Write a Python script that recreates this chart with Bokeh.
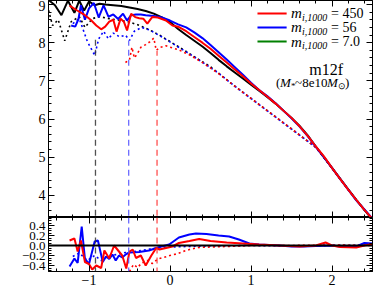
import numpy as np
from bokeh.plotting import figure
from bokeh.layouts import column
from bokeh.models import LinearAxis, FixedTicker, CustomJSTickFormatter, Label, Span
from bokeh.embed import file_html
from bokeh.resources import INLINE

# ---------------- data ----------------
black_x = [-1.5, -1.42, -1.34, -1.26, -1.18, -1.12, -1.06, -1.0, -0.93, -0.87, -0.8, -0.7, -0.6, -0.5,
           -0.4, -0.3, -0.2, -0.1, 0.0, 0.1, 0.2, 0.3, 0.4, 0.5, 0.6, 0.7, 0.8, 0.9, 1.0, 1.1, 1.2,
           1.3, 1.4, 1.5, 1.6, 1.7, 1.8, 1.9, 2.0, 2.1, 2.2, 2.3, 2.4, 2.5]
black_y = [9.12, 8.98, 8.72, 9.1, 8.78, 9.1, 8.84, 9.08, 8.98, 9.02, 9.0, 8.98, 8.96, 8.92,
           8.88, 8.83, 8.76, 8.66, 8.54, 8.36, 8.2, 8.05, 7.9, 7.73, 7.55, 7.38, 7.22, 7.06, 6.9,
           6.74, 6.58, 6.41, 6.22, 6.03, 5.82, 5.57, 5.28, 5.0, 4.72, 4.44, 4.16, 3.88, 3.62, 3.36]

blue_x = [-1.22, -1.17, -1.13, -1.1, -1.05, -1.0, -0.94, -0.88, -0.82, -0.76, -0.7, -0.64, -0.58,
          -0.53, -0.48, -0.42, -0.36, -0.3, -0.2, -0.1, 0.0, 0.1, 0.2, 0.3, 0.4, 0.5, 0.6, 0.7,
          0.8, 0.9, 1.0, 1.1, 1.2, 1.3, 1.4, 1.5, 1.6, 1.7, 1.8, 1.9, 2.0, 2.1, 2.2, 2.3, 2.4, 2.5]
blue_y = [8.45, 8.42, 8.62, 8.98, 8.6, 8.9, 9.04, 8.66, 8.98, 8.68, 8.74, 8.62, 8.76,
          8.58, 8.72, 8.74, 8.74, 8.72, 8.7, 8.66, 8.58, 8.48, 8.4, 8.27, 8.12, 7.94, 7.75, 7.56,
          7.36, 7.16, 6.95, 6.76, 6.6, 6.42, 6.22, 6.02, 5.8, 5.55, 5.27, 5.0, 4.72, 4.43, 4.15,
          3.87, 3.63, 3.39]

red_x = [-1.24, -1.15, -1.05, -0.98, -0.91, -0.85, -0.8, -0.75, -0.7, -0.66, -0.61, -0.57, -0.53,
         -0.48, -0.43, -0.38, -0.33, -0.28, -0.22, -0.15, -0.1, -0.05, 0.03, 0.1, 0.2, 0.3, 0.4,
         0.5, 0.6, 0.7, 0.8, 0.9, 1.0, 1.1, 1.2, 1.3, 1.4, 1.5, 1.6, 1.7, 1.8, 1.9, 2.0, 2.1,
         2.2, 2.3, 2.4, 2.5]
red_y = [8.97, 8.85, 8.72, 8.6, 8.45, 8.35, 8.42, 8.55, 8.6, 8.29, 8.63, 8.55, 8.32,
         8.76, 8.67, 8.64, 8.63, 8.5, 8.67, 8.66, 8.62, 8.58, 8.45, 8.42, 8.3, 8.15, 8.0,
         7.84, 7.66, 7.48, 7.3, 7.12, 6.93, 6.76, 6.59, 6.41, 6.22, 6.03, 5.81, 5.56, 5.28, 5.02,
         4.72, 4.43, 4.15, 3.88, 3.62, 3.38]

black_dot_x = [-1.5, -1.45, -1.38, -1.3, -1.22, -1.12, -1.05, -0.96, -0.87, -0.75, -0.6, -0.5, -0.4,
               -0.3, -0.2, -0.1, 0.0, 0.1, 0.2, 0.3, 0.4, 0.5, 0.6, 0.7, 0.8, 0.9, 1.0, 1.1, 1.2,
               1.3, 1.4, 1.5, 1.6, 1.7, 1.8, 1.9, 2.0, 2.1, 2.2, 2.3, 2.4, 2.5]
black_dot_y = [8.85, 8.45, 8.6, 8.05, 8.55, 8.68, 8.4, 8.63, 8.68, 8.63, 8.58, 8.54, 8.47,
               8.38, 8.28, 8.16, 8.03, 7.9, 7.77, 7.63, 7.5, 7.37, 7.2, 7.03, 6.86, 6.7, 6.54,
               6.38, 6.22, 6.06, 5.9, 5.74, 5.58, 5.42, 5.26, 5.0, 4.72, 4.43, 4.15, 3.88, 3.62, 3.38]

blue_dot_x = [-1.2, -1.12, -1.02, -0.93, -0.88, -0.82, -0.76, -0.7, -0.62, -0.55, -0.5, -0.44, -0.35,
              -0.25, -0.1, 0.0, 0.2, 0.4, 0.6, 0.8, 1.0, 1.2, 1.4, 1.6, 1.8, 2.0, 2.2, 2.4, 2.5]
blue_dot_y = [8.5, 8.63, 8.03, 7.67, 8.1, 8.3, 8.1, 8.25, 8.15, 8.2, 8.06, 8.3, 8.4,
              8.33, 8.15, 8.02, 7.76, 7.49, 7.2, 6.86, 6.54, 6.22, 5.9, 5.58, 5.26, 4.71, 4.15,
              3.62, 3.38]

red_dot_x = [-0.55, -0.5, -0.47, -0.44, -0.4, -0.36, -0.3, -0.25, -0.2, -0.17, -0.12, -0.05, 0.0,
             0.1, 0.24, 0.4, 0.6, 0.8, 1.0, 1.2, 1.4, 1.6, 1.8, 2.0, 2.2, 2.4, 2.5]
red_dot_y = [7.48, 7.55, 7.88, 7.6, 7.72, 7.88, 7.95, 8.02, 8.12, 7.8, 7.88, 7.92, 7.88,
             7.82, 7.68, 7.48, 7.19, 6.86, 6.54, 6.22, 5.9, 5.58, 5.26, 4.71, 4.15, 3.62, 3.38]

cut_x = [-0.92, -0.51, -0.16]
cut_top = [8.1, 8.05, 7.78]
cut_colors = ["#333333", "#5050ff", "#ff3030"]

res_blue_x = [-1.24, -1.18, -1.14, -1.09, -1.05, -1.0, -0.93, -0.89, -0.83, -0.79, -0.75, -0.71,
              -0.67, -0.63, -0.59, -0.54, -0.5, -0.38, -0.26, -0.13, -0.01, 0.11, 0.24, 0.32,
              0.45, 0.6, 0.73, 0.85, 0.98, 1.1, 1.35, 1.5, 1.65, 1.8, 2.0, 2.1, 2.2, 2.3, 2.4, 2.5]
res_blue_y = [-0.42, -0.26, -0.35, 0.38, -0.27, -0.37, 0.08, 0.1, -0.33, -0.22, -0.27, -0.18,
              -0.3, -0.2, -0.24, -0.17, -0.14, -0.13, -0.1, -0.03, 0.02, 0.16, 0.22, 0.24,
              0.23, 0.2, 0.18, 0.12, 0.04, 0.02, 0.0, -0.02, -0.02, -0.01, 0.0, -0.02, -0.03,
              -0.02, 0.05, 0.04]

res_red_x = [-1.24, -1.18, -1.14, -1.1, -1.05, -1.0, -0.96, -0.91, -0.85, -0.81, -0.75, -0.69,
             -0.63, -0.59, -0.54, -0.5, -0.46, -0.42, -0.36, -0.3, -0.23, -0.17, -0.13, -0.05,
             0.03, 0.11, 0.24, 0.36, 0.5, 0.7, 0.9, 1.1, 1.35, 1.6, 1.8, 1.92, 2.0, 2.1, 2.3,
             2.4, 2.5]
res_red_y = [0.1, 0.14, -0.12, 0.1, -0.33, -0.37, -0.48, -0.4, -0.45, -0.1, -0.26, 0.0,
             -0.12, -0.2, -0.46, -0.12, -0.08, -0.25, -0.2, -0.4, -0.2, -0.05, -0.08, -0.05,
             -0.02, 0.05, 0.09, 0.13, 0.09, 0.06, 0.04, 0.02, 0.0, -0.02, 0.0, 0.06, 0.0, -0.03,
             -0.04, 0.0, 0.03]

res_blue_dot_x = [-1.2, -1.12, -1.02, -0.93, -0.85, -0.75, -0.65, -0.55, -0.45, -0.35, -0.25, -0.1,
                  0.0, 0.2, 0.5, 1.0, 1.5, 2.0, 2.5]
res_blue_dot_y = [-0.22, -0.15, -0.3, -0.2, -0.3, -0.2, -0.18, -0.14, -0.12, -0.1, -0.07, -0.04,
                  -0.03, -0.02, -0.01, 0.0, -0.01, 0.0, 0.01]

res_red_dot_x = [-0.5, -0.45, -0.4, -0.35, -0.28, -0.22, -0.15, -0.08, 0.0, 0.08, 0.16, 0.24,
                 0.35, 0.5, 0.7, 1.0, 1.5, 2.0, 2.5]
res_red_dot_y = [-0.52, -0.38, -0.44, -0.35, -0.3, -0.36, -0.27, -0.24, -0.2, -0.17, -0.12, -0.08,
                 -0.04, -0.03, -0.02, 0.0, 0.0, 0.01, 0.0]

legend_labels = ["450", "56", "7.0"]
legend_colors = ["#ff0000", "#0000ff", "#008000"]

x_major = [-1, 0, 1, 2]
main_y_major = [4, 5, 6, 7, 8, 9]
res_y_major = [-0.4, -0.2, 0.0, 0.2, 0.4]

# ---------------- styling ----------------
FONT = "Liberation Serif"
X_RANGE = (-1.5, 2.5)
MAIN_Y = (3.42, 9.105)
RES_Y = (-0.52, 0.56)
FRAME_W = 324

x_ticker = FixedTicker(ticks=x_major, minor_ticks=list(np.round(np.arange(-1.4, 2.41, 0.2), 2)))
main_y_ticker = FixedTicker(ticks=main_y_major,
                            minor_ticks=list(np.round(np.arange(3.6, 9.11, 0.2), 2)))
res_y_ticker = FixedTicker(ticks=res_y_major,
                           minor_ticks=list(np.round(np.arange(-0.5, 0.551, 0.05), 2)))

fmt_int = CustomJSTickFormatter(code="return tick < 0 ? '\\u2212' + Math.abs(tick).toFixed(0) : tick.toFixed(0);")
fmt_1 = CustomJSTickFormatter(code="return tick < -1e-9 ? '\\u2212' + Math.abs(tick).toFixed(1) : Math.abs(tick).toFixed(1);")
fmt_none = CustomJSTickFormatter(code="return '';")


def style_axis(ax, ticker, formatter, show):
    ax.ticker = ticker
    ax.formatter = formatter if show else fmt_none
    ax.axis_line_color = "black"
    ax.axis_line_width = 1
    ax.major_tick_line_color = "black"
    ax.minor_tick_line_color = "black"
    ax.major_tick_in = 6
    ax.major_tick_out = 0
    ax.minor_tick_in = 3
    ax.minor_tick_out = 0
    ax.major_label_text_font = FONT
    ax.major_label_text_color = "black"
    if show:
        ax.major_label_text_font_size = "14px"
        ax.major_label_standoff = 3
    else:
        ax.major_label_text_font_size = "0px"
        ax.major_label_standoff = 0
    ax.axis_label = None


def make_fig(frame_h, y_range):
    p = figure(frame_width=FRAME_W, frame_height=frame_h, x_range=X_RANGE, y_range=y_range,
               output_backend="svg", toolbar_location=None,
               min_border_left=48, min_border_right=1, min_border_top=0, min_border_bottom=0)
    p.grid.visible = False
    p.outline_line_color = "black"
    p.background_fill_color = "white"
    p.border_fill_color = "white"
    return p


# ---------------- main panel ----------------
p1 = make_fig(217, MAIN_Y)
style_axis(p1.xaxis[0], x_ticker, fmt_int, False)
style_axis(p1.yaxis[0], main_y_ticker, fmt_int, True)
top1 = LinearAxis()
style_axis(top1, x_ticker, fmt_int, False)
p1.add_layout(top1, "above")
right1 = LinearAxis()
style_axis(right1, main_y_ticker, fmt_int, False)
p1.add_layout(right1, "right")

DOT = "2 3"
p1.line(black_dot_x, black_dot_y, line_color="black", line_width=1.6, line_dash=DOT)
p1.line(blue_dot_x, blue_dot_y, line_color="#0000ff", line_width=1.6, line_dash=DOT)
p1.line(red_dot_x, red_dot_y, line_color="#ff0000", line_width=1.6, line_dash=DOT)

p1.segment(x0=cut_x, y0=[MAIN_Y[0] - 1] * 3, x1=cut_x, y1=cut_top, line_color=cut_colors,
           line_width=1.3, line_dash="6 4", line_alpha=0.85)

p1.line(black_x, black_y, line_color="black", line_width=2)
p1.line(blue_x, blue_y, line_color="#0000ff", line_width=2)
p1.line(red_x, red_y, line_color="#ff0000", line_width=2)

# legend (drawn by hand so the label can carry an italic subscript)
leg_y = [8.765, 8.4, 8.03]
p1.segment(x0=[1.08] * 3, y0=leg_y, x1=[1.44] * 3, y1=leg_y, line_color=legend_colors, line_width=2)
for yy, lab in zip(leg_y, legend_labels):
    p1.add_layout(Label(x=1.495, y=yy, text="m", text_font=FONT, text_font_style="italic",
                        text_font_size="15px", text_baseline="middle", text_color="black"))
    p1.add_layout(Label(x=1.495, y=yy, x_offset=11, y_offset=-4, text="i,1000", text_font=FONT,
                        text_font_style="italic", text_font_size="10px", text_baseline="middle",
                        text_color="black"))
    p1.add_layout(Label(x=1.495, y=yy, x_offset=40, text="= " + lab, text_font=FONT,
                        text_font_size="14px", text_baseline="middle", text_color="black"))

p1.add_layout(Label(x=1.72, y=7.3, text="m12f", text_font=FONT, text_font_size="16px",
                    text_baseline="middle", text_color="black"))
sub_parts = [("(", 0, 0, "normal", "13px"), ("M", 4, 0, "italic", "13px"),
             ("*", 15, -4, "normal", "9px"), ("~8e10", 19, 0, "normal", "13px"),
             ("M", 51, 0, "italic", "13px"), ("\u2299", 62, -4, "normal", "9px"),
             (")", 69, 0, "normal", "13px")]
for t, dx, dy, st, fs in sub_parts:
    p1.add_layout(Label(x=1.31, y=6.96, x_offset=dx, y_offset=dy, text=t, text_font=FONT,
                        text_font_style=st, text_font_size=fs, text_baseline="middle",
                        text_color="black"))

# ---------------- residual panel ----------------
p2 = make_fig(54, RES_Y)
p2.x_range = p1.x_range
style_axis(p2.xaxis[0], x_ticker, fmt_int, True)
style_axis(p2.yaxis[0], res_y_ticker, fmt_1, True)
p2.yaxis[0].major_label_text_font_size = "13px"
top2 = LinearAxis()
style_axis(top2, x_ticker, fmt_int, False)
p2.add_layout(top2, "above")
right2 = LinearAxis()
style_axis(right2, res_y_ticker, fmt_1, False)
p2.add_layout(right2, "right")

for cx, cc in zip(cut_x, cut_colors):
    p2.add_layout(Span(location=cx, dimension="height", line_color=cc, line_width=1.3,
                       line_dash="6 4", line_alpha=0.85))

p2.line(res_blue_dot_x, res_blue_dot_y, line_color="#0000ff", line_width=1.6, line_dash=DOT)
p2.line(res_red_dot_x, res_red_dot_y, line_color="#ff0000", line_width=1.6, line_dash=DOT)
p2.add_layout(Span(location=0, dimension="width", line_color="black", line_width=2))
p2.line(res_blue_x, res_blue_y, line_color="#0000ff", line_width=2)
p2.line(res_red_x, res_red_y, line_color="#ff0000", line_width=2)

layout = column(p1, p2, spacing=0)
open("out.html", "w").write(file_html(layout, INLINE))
